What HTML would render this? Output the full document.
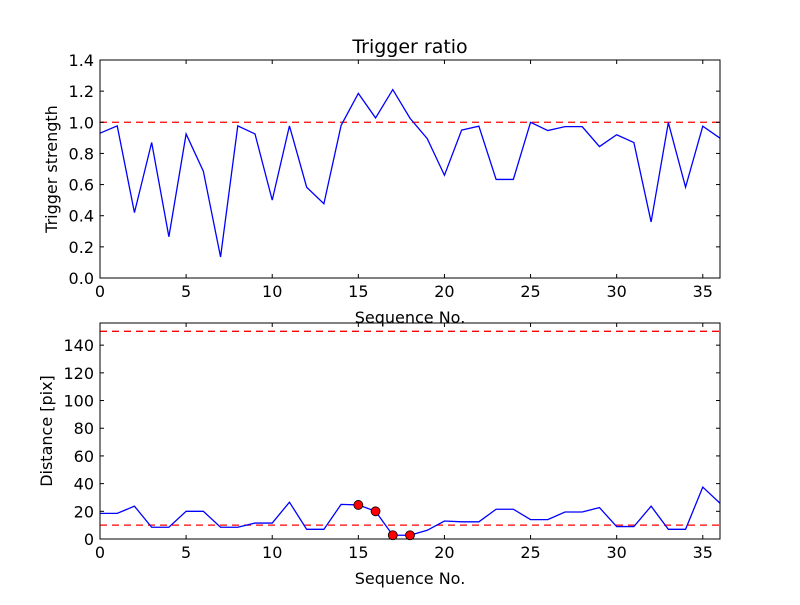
<!DOCTYPE html>
<html><head><meta charset="utf-8"><style>body{margin:0;background:#fff}svg{font-family:"DejaVu Sans","Liberation Sans",sans-serif}</style></head>
<body>
<svg id="c" width="800" height="600"></svg>
<script>
const seqNo=[...Array(37).keys()];
const ratioValues=[0.93,0.977,0.42,0.87,0.265,0.925,0.686,0.135,0.977,0.925,0.50,0.977,0.583,0.477,0.98,1.186,1.028,1.21,1.026,0.895,0.66,0.95,0.975,0.633,0.633,1.0,0.947,0.972,0.972,0.844,0.92,0.87,0.36,0.998,0.583,0.975,0.898];
const distValues=[18.5,18.5,23.7,8.5,8.5,20,20,8.5,8.5,11.5,11.5,26.6,7,7,25,24.6,20,2.7,2.7,6.3,13,12.4,12.4,21.5,21.5,14,14,19.5,19.5,22.7,9,9,23.7,7,7,37.5,25.8];
const markedIdx=[15,16,17,18];
const ratioThreshold=[1.0];
const distThresholds=[150,10];
const xTicks=[0,5,10,15,20,25,30,35];
const topYTicks=[0,0.2,0.4,0.6,0.8,1.0,1.2,1.4];
const botYTicks=[0,20,40,60,80,100,120,140];
const NS="http://www.w3.org/2000/svg",svg=document.getElementById('c');
function mk(t,a,p){const e=document.createElementNS(NS,t);for(const k in a)e.setAttribute(k,a[k]);(p||svg).appendChild(e);return e;}
function panel(name,top,bot,ymax,yTicks,yFmt,vals,thr,ylabel,title){
 const L=100,R=720,x=v=>L+v/36*(R-L),y=v=>bot-v/ymax*(bot-top);
 const g=mk('g',{});
 thr.forEach(t=>{const l=mk('line',{x1:L,x2:R,y1:y(t),y2:y(t),stroke:'#f00','stroke-width':1.3,'stroke-dasharray':'7,5'},g);});
 const p=mk('polyline',{points:vals.map((v,i)=>x(seqNo[i])+','+y(v)).join(' '),fill:'none',stroke:'#00f','stroke-width':1.3},g);
 
 const fr=mk('rect',{x:L,y:top,width:R-L,height:bot-top,fill:'none',stroke:'#000','stroke-width':1},g);
 
 xTicks.forEach(t=>{mk('line',{x1:x(t),x2:x(t),y1:bot,y2:bot-4,stroke:'#000'},g);mk('line',{x1:x(t),x2:x(t),y1:top,y2:top+4,stroke:'#000'},g);
  const tx=mk('text',{x:x(t),y:bot+19,'text-anchor':'middle','font-size':16},g);tx.textContent=t;});
 yTicks.forEach(t=>{mk('line',{x1:L,x2:L+4,y1:y(t),y2:y(t),stroke:'#000'},g);mk('line',{x1:R,x2:R-4,y1:y(t),y2:y(t),stroke:'#000'},g);
  const tx=mk('text',{x:L-6,y:y(t)+6,'text-anchor':'end','font-size':16},g);tx.textContent=yFmt(t);});
 const xl=mk('text',{x:410,y:bot+45,'text-anchor':'middle','font-size':16},g);xl.textContent='Sequence No.';
 const yl=mk('text',{x:0,y:0,'text-anchor':'middle','font-size':16,transform:`translate(${name==='trigger-panel'?57:52},${(top+bot)/2}) rotate(-90)`},g);yl.textContent=ylabel;
 if(title){const tt=mk('text',{x:410,y:top-7,'text-anchor':'middle','font-size':19},g);tt.textContent=title;}
 return {x,y,g};
}
panel('trigger-panel',60,278,1.4,topYTicks,t=>t.toFixed(1),ratioValues,ratioThreshold,'Trigger strength','Trigger ratio');
const b=panel('distance-panel',323,539,156,botYTicks,t=>t,distValues,distThresholds,'Distance [pix]',null);
markedIdx.forEach(i=>{const c=mk('circle',{cx:b.x(seqNo[i]),cy:b.y(distValues[i]),r:4.5,fill:'#f00',stroke:'#000','stroke-width':0.8},b.g);
 });
</script>
</body></html>
